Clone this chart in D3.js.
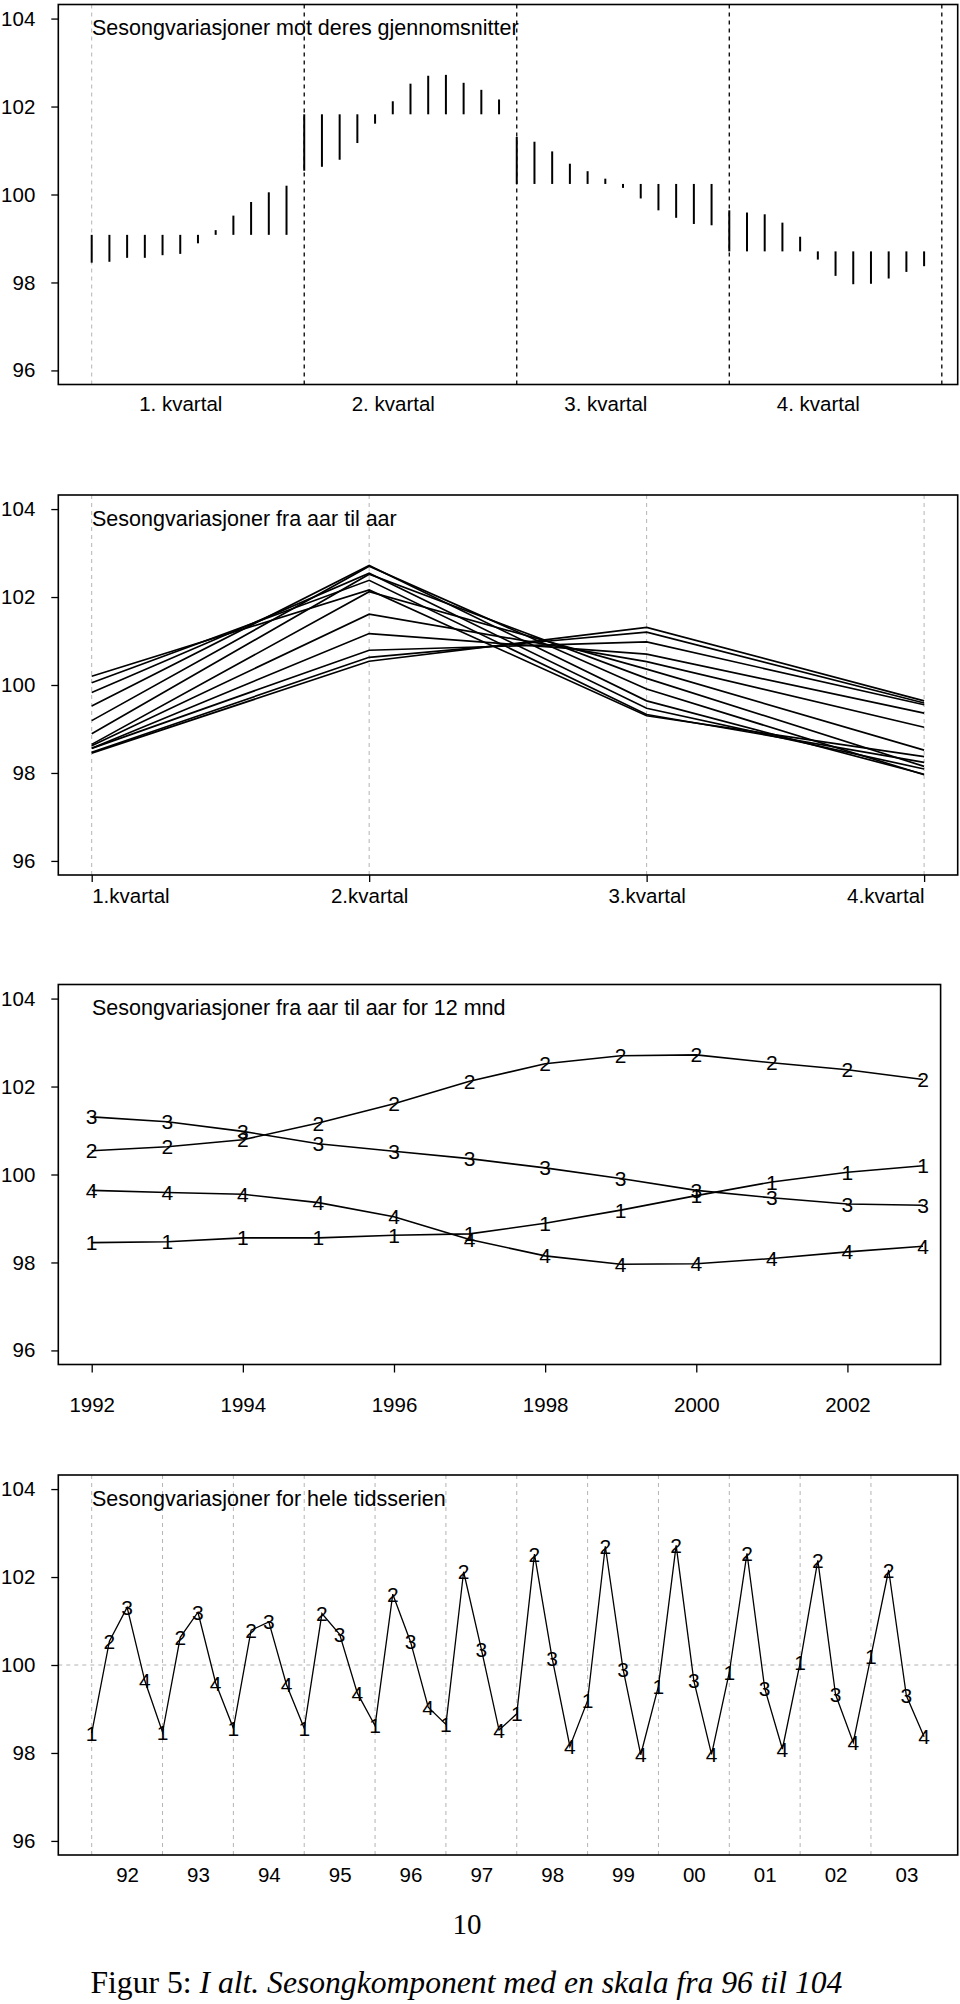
<!DOCTYPE html>
<html><head><meta charset="utf-8">
<script src="https://cdn.jsdelivr.net/npm/d3@7"></script>
<style>
body{margin:0;background:#fff}
svg{display:block}
</style>
</head><body>
<svg id="c" width="960" height="2004"></svg>
<script>
// ---------------- data ----------------
const years = [1992,1993,1994,1995,1996,1997,1998,1999,2000,2001,2002,2003];
const q1 = [98.45,98.47,98.56,98.56,98.62,98.65,98.89,99.19,99.52,99.83,100.05,100.20];
const q2 = [100.54,100.63,100.79,101.17,101.61,102.12,102.52,102.70,102.72,102.54,102.38,102.16];
const q3 = [101.31,101.20,100.98,100.70,100.53,100.36,100.15,99.91,99.64,99.47,99.33,99.30];
const q4 = [99.64,99.59,99.55,99.36,99.04,98.52,98.15,97.96,97.97,98.09,98.24,98.37];
const quarterLabels1 = ["1. kvartal","2. kvartal","3. kvartal","4. kvartal"];
const quarterLabels2 = ["1.kvartal","2.kvartal","3.kvartal","4.kvartal"];
const yTicks = [96,98,100,102,104];
const yearTicks = [1992,1994,1996,1998,2000,2002];
const shortYearLabels = ["92","93","94","95","96","97","98","99","00","01","02","03"];
const seriesDigits = ["1","2","3","4"];
const titles = ["Sesongvariasjoner mot deres gjennomsnitter",
                "Sesongvariasjoner fra aar til aar",
                "Sesongvariasjoner fra aar til aar for 12 mnd",
                "Sesongvariasjoner for hele tidsserien"];
const pageNumber = "10";
const captionHead = "Figur 5: ";
const captionBody = "I alt. Sesongkomponent med en skala fra 96 til 104";

// ---------------- layout ----------------
const SANS = "'Liberation Sans',Arial,Helvetica,sans-serif";
const SERIF = "'Liberation Serif','DejaVu Serif',serif";
const svg = d3.select("#c");
const quarters = [q1,q2,q3,q4];
const boxL = 58.3, boxH = 380;
const x0 = 91.7, xEnd = 924.1;
const gray = "#b4b4b4";

function styleAxis(a){
  a.select(".domain").remove();
  a.selectAll("line").attr("stroke","#000").attr("stroke-width",1.3);
  a.selectAll("text").attr("fill","#000").style("font-family",SANS).style("font-size","20.5px");
}
function panel(top, right){
  const g = svg.append("g");
  const y = d3.scaleLinear().domain([95.68,104.32]).range([top+boxH, top]);
  const ax = g.append("g").attr("transform",`translate(${boxL},0)`)
    .call(d3.axisLeft(y).tickValues(yTicks).tickSize(7).tickPadding(16).tickFormat(d3.format("d")));
  styleAxis(ax);
  return {g,y,top,bottom:top+boxH,right};
}
function box(p){
  p.g.append("rect").attr("x",boxL).attr("y",p.top).attr("width",p.right-boxL).attr("height",boxH)
    .attr("fill","none").attr("stroke","#000").attr("stroke-width",1.6);
}
function title(p,txt){
  p.g.append("text").attr("x",92).attr("y",p.y(104)+16.5)
    .style("font-family",SANS).style("font-size","21.5px").text(txt);
}
function digitStyle(sel){
  sel.attr("text-anchor","middle").attr("dy","0.36em")
    .style("font-family",SANS).style("font-size","21px");
}

// ---------- Panel 1 ----------
{
  const p = panel(4.5, 957.7);
  const x = d3.scaleLinear().domain([0,47]).range([x0,xEnd]);
  p.g.append("line").attr("x1",x(0)).attr("x2",x(0)).attr("y1",p.top).attr("y2",p.bottom)
    .attr("stroke",gray).attr("stroke-width",1).attr("stroke-dasharray","4,4");
  [12,24,36,48].forEach(k=>{
    p.g.append("line").attr("x1",x(k)).attr("x2",x(k)).attr("y1",p.top).attr("y2",p.bottom)
      .attr("stroke","#000").attr("stroke-width",1.3).attr("stroke-dasharray","4,4");
  });
  quarters.forEach((vals,q)=>{
    const m = d3.mean(vals);
    p.g.selectAll(null).data(vals).enter().append("line")
      .attr("x1",(d,i)=>x(q*12+i)).attr("x2",(d,i)=>x(q*12+i))
      .attr("y1",p.y(m)).attr("y2",d=>p.y(d))
      .attr("stroke","#000").attr("stroke-width",2);
  });
  const a = p.g.append("g").attr("transform",`translate(0,${p.bottom})`)
    .call(d3.axisBottom(x).tickValues([5,17,29,41]).tickSize(0).tickPadding(12)
      .tickFormat((d,i)=>quarterLabels1[i]));
  styleAxis(a);
  box(p); title(p,titles[0]);
}

// ---------- Panel 2 ----------
{
  const p = panel(495, 957.7);
  const x = d3.scaleLinear().domain([1,4]).range([x0,xEnd]);
  [1,2,3,4].forEach(k=>{
    p.g.append("line").attr("x1",x(k)).attr("x2",x(k)).attr("y1",p.top).attr("y2",p.bottom)
      .attr("stroke",gray).attr("stroke-width",1).attr("stroke-dasharray","4,4");
  });
  const line = d3.line().x((d,i)=>x(i+1)).y(d=>p.y(d));
  const rows = years.map((yr,i)=>quarters.map(s=>s[i]));
  p.g.selectAll(null).data(rows).enter().append("path")
    .attr("d",line).attr("fill","none").attr("stroke","#000").attr("stroke-width",1.7);
  const a = p.g.append("g").attr("transform",`translate(0,${p.bottom})`)
    .call(d3.axisBottom(x).tickValues([1,2,3,4]).tickSize(7).tickPadding(6)
      .tickFormat((d,i)=>quarterLabels2[i]));
  styleAxis(a);
  a.selectAll("text").attr("text-anchor",(d,i)=>i===0?"start":(i===3?"end":"middle"));
  box(p); title(p,titles[1]);
}

// ---------- Panel 3 ----------
{
  const p = panel(984.5, 940.6);
  const x = d3.scaleLinear().domain([1992,2003]).range([x0,923]);
  const line = d3.line().x((d,i)=>x(years[i])).y(d=>p.y(d));
  quarters.forEach((vals,q)=>{
    p.g.append("path").attr("d",line(vals)).attr("fill","none").attr("stroke","#000").attr("stroke-width",1.6);
    p.g.selectAll(null).data(vals).enter().append("text")
      .attr("x",(d,i)=>x(years[i])).attr("y",d=>p.y(d)).call(digitStyle).text(seriesDigits[q]);
  });
  const a = p.g.append("g").attr("transform",`translate(0,${p.bottom})`)
    .call(d3.axisBottom(x).tickValues(yearTicks).tickSize(8).tickPadding(24.5).tickFormat(d3.format("d")));
  styleAxis(a);
  box(p); title(p,titles[2]);
}

// ---------- Panel 4 ----------
{
  const p = panel(1475, 957.7);
  const x = d3.scaleLinear().domain([1992,2003.75]).range([x0,xEnd]);
  years.forEach(yr=>{
    p.g.append("line").attr("x1",x(yr)).attr("x2",x(yr)).attr("y1",p.top).attr("y2",p.bottom)
      .attr("stroke",gray).attr("stroke-width",1).attr("stroke-dasharray","4,4");
  });
  p.g.append("line").attr("x1",boxL).attr("x2",p.right).attr("y1",p.y(100)).attr("y2",p.y(100))
    .attr("stroke",gray).attr("stroke-width",1).attr("stroke-dasharray","4,4");
  const pts = [];
  years.forEach((yr,i)=>quarters.forEach((s,q)=>pts.push({t:yr+q/4,v:s[i],q})));
  const line = d3.line().x(d=>x(d.t)).y(d=>p.y(d.v));
  p.g.append("path").attr("d",line(pts)).attr("fill","none").attr("stroke","#000").attr("stroke-width",1.3);
  p.g.selectAll(null).data(pts).enter().append("text")
    .attr("x",d=>x(d.t)).attr("y",d=>p.y(d.v)).call(digitStyle).text(d=>seriesDigits[d.q]);
  const a = p.g.append("g").attr("transform",`translate(0,${p.bottom})`)
    .call(d3.axisBottom(x).tickValues(years.map(y=>y+0.5)).tickSize(0).tickPadding(12.5)
      .tickFormat((d,i)=>shortYearLabels[i]));
  styleAxis(a);
  box(p); title(p,titles[3]);
}

// ---------- page number and caption ----------
svg.append("text").attr("x",467).attr("y",1934).attr("text-anchor","middle")
  .style("font-family",SERIF).style("font-size","29px").text(pageNumber);
const cap = svg.append("text").attr("x",90.5).attr("y",1993)
  .style("font-family",SERIF).style("font-size","26px");
cap.append("tspan").text(captionHead);
cap.append("tspan").style("font-style","italic").text(captionBody);
// fit caption to the width it occupies in the source (≈ 752 px)
const len = cap.node().getComputedTextLength();
if (len > 0) cap.style("font-size", (26*752/len).toFixed(2)+"px");
</script>
</body></html>
